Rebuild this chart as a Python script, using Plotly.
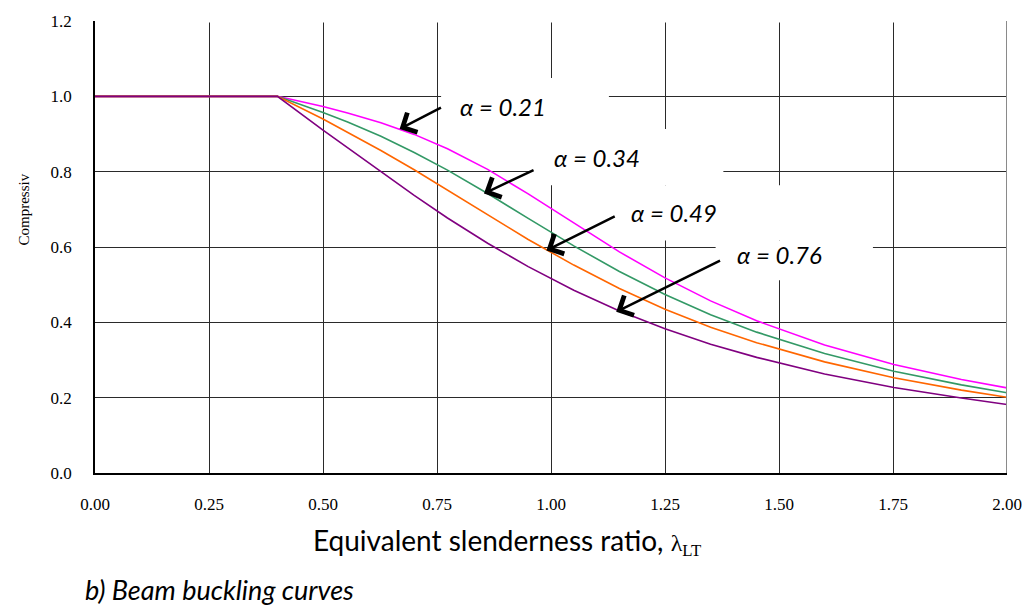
import plotly.graph_objects as go

# ---- data ----
lam = [0.0, 0.4, 0.5, 0.554, 0.627, 0.7, 0.773, 0.861, 0.95, 1.05, 1.15, 1.25,
       1.35, 1.451, 1.6, 1.752, 1.9, 2.0]
chi_021 = [1.0, 1.0, 0.973, 0.956, 0.930, 0.899, 0.861, 0.806, 0.741, 0.663, 0.587,
           0.518, 0.457, 0.404, 0.340, 0.288, 0.248, 0.226]
chi_034 = [1.0, 1.0, 0.957, 0.932, 0.894, 0.851, 0.804, 0.742, 0.676, 0.603, 0.535,
           0.474, 0.420, 0.374, 0.317, 0.270, 0.234, 0.213]
chi_049 = [1.0, 1.0, 0.940, 0.905, 0.856, 0.805, 0.751, 0.685, 0.620, 0.552, 0.490,
           0.435, 0.387, 0.346, 0.295, 0.253, 0.220, 0.201]
chi_076 = [1.0, 1.0, 0.910, 0.863, 0.799, 0.737, 0.677, 0.610, 0.548, 0.485, 0.430,
           0.383, 0.342, 0.307, 0.263, 0.227, 0.199, 0.182]

series_names = ["α = 0.21", "α = 0.34", "α = 0.49", "α = 0.76"]
series_values = [chi_021, chi_034, chi_049, chi_076]
series_colors = ["#FF00FF", "#339966", "#FF6600", "#800080"]

x_ticks = [0.0, 0.25, 0.5, 0.75, 1.0, 1.25, 1.5, 1.75, 2.0]
x_ticktext = ["0.00", "0.25", "0.50", "0.75", "1.00", "1.25", "1.50", "1.75", "2.00"]
y_ticks = [0.0, 0.2, 0.4, 0.6, 0.8, 1.0, 1.2]
y_ticktext = ["0.0", "0.2", "0.4", "0.6", "0.8", "1.0", "1.2"]

fig = go.Figure()
for name, vals, col in zip(series_names, series_values, series_colors):
    fig.add_trace(go.Scatter(x=lam, y=vals, mode="lines", name=name,
                             line=dict(color=col, width=1.6), showlegend=False))

# label positions (text centre), arrow head and arrow tail, in data units
label_pos = [(0.895, 0.974), (1.100, 0.837), (1.269, 0.692), (1.500, 0.581)]
arrow_head = [(0.668, 0.913), (0.853, 0.742), (0.990, 0.591), (1.143, 0.428)]
arrow_tail = [(0.762, 0.972), (0.965, 0.806), (1.143, 0.683), (1.374, 0.566)]
# white boxes behind the labels (hide the gridlines)
boxes = [(0.759, 1.127, 0.913, 1.049), (0.958, 1.378, 0.764, 0.913),
         (1.017, 1.608, 0.617, 0.764), (1.361, 1.706, 0.512, 0.617)]

shapes = []
for (x0, x1, y0, y1) in boxes:
    shapes.append(dict(type="rect", xref="x", yref="y", x0=x0, x1=x1, y0=y0, y1=y1,
                       fillcolor="white", line=dict(width=0), layer="between"))
# the top gridline is absent in the reference except a short stub at the left
shapes.append(dict(type="line", xref="x", yref="y", x0=0.035, x1=2.0, y0=1.2, y1=1.2,
                   line=dict(color="white", width=3), layer="between"))
# right frame drawn in grey
shapes.append(dict(type="line", xref="x", yref="y", x0=2.0, x1=2.0, y0=0, y1=1.2,
                   line=dict(color="#8a8a8a", width=2), layer="above"))

annotations = []
for name, (tx, ty) in zip(series_names, label_pos):
    annotations.append(dict(x=tx, y=ty, xref="x", yref="y", text=name, showarrow=False,
                            font=dict(family="Lato", size=24, color="black", style="italic")))
for (hx, hy), (txx, tyy) in zip(arrow_head, arrow_tail):
    annotations.append(dict(x=hx, y=hy, ax=txx, ay=tyy, xref="x", yref="y",
                            axref="x", ayref="y", text="", showarrow=True,
                            arrowhead=4, arrowsize=1.7, arrowwidth=2.5,
                            arrowcolor="black", standoff=0, startstandoff=0))

pix_annots = [
    dict(x=23.5, y=207, text="Compressiv", textangle=-90, xanchor="center", yanchor="middle",
         font=dict(family="Liberation Serif", size=15, color="black")),
    dict(x=312, y=543, xanchor="left", yanchor="middle",
         text="Equivalent slenderness ratio, <span style='font-family:Liberation Serif;font-size:24px'>λ<sub>LT</sub></span>",
         font=dict(family="Lato", size=28, color="black")),
    dict(x=83, y=591, xanchor="left", yanchor="middle", text="b) Beam buckling curves",
         font=dict(family="Lato", size=27, color="black", style="italic")),
]

# convert pixel-positioned annotations to paper coords
W, H = 1034, 609
L, R, T, B = 95, 24.5, 16, 135.7
pw, ph = W - L - R, H - T - B
for a in pix_annots:
    a["x"] = (a["x"] - L) / pw
    a["y"] = (H - B - a["y"]) / ph
    a.update(xref="paper", yref="paper", showarrow=False)
    annotations.append(a)

fig.update_layout(
    width=W, height=H,
    margin=dict(l=L, r=R, t=T, b=B, pad=0),
    paper_bgcolor="white", plot_bgcolor="white",
    shapes=shapes, annotations=annotations,
    font=dict(family="Liberation Serif", size=17, color="black"),
)
fig.update_xaxes(range=[0, 2], tickmode="array", tickvals=x_ticks, ticktext=x_ticktext,
                 showgrid=True, gridcolor="#2a2a2a", gridwidth=1,
                 showline=True, linecolor="black", linewidth=1.5, mirror=False,
                 ticks="", ticklabelstandoff=15, zeroline=False,
                 tickfont=dict(family="Liberation Serif", size=17, color="black"))
fig.update_yaxes(range=[0, 1.2], tickmode="array", tickvals=y_ticks, ticktext=y_ticktext,
                 showgrid=True, gridcolor="#2a2a2a", gridwidth=1,
                 showline=True, linecolor="black", linewidth=1.5, mirror=False,
                 ticks="", ticklabelstandoff=18, zeroline=False,
                 tickfont=dict(family="Liberation Serif", size=17, color="black"))

fig.write_html("out.html")
